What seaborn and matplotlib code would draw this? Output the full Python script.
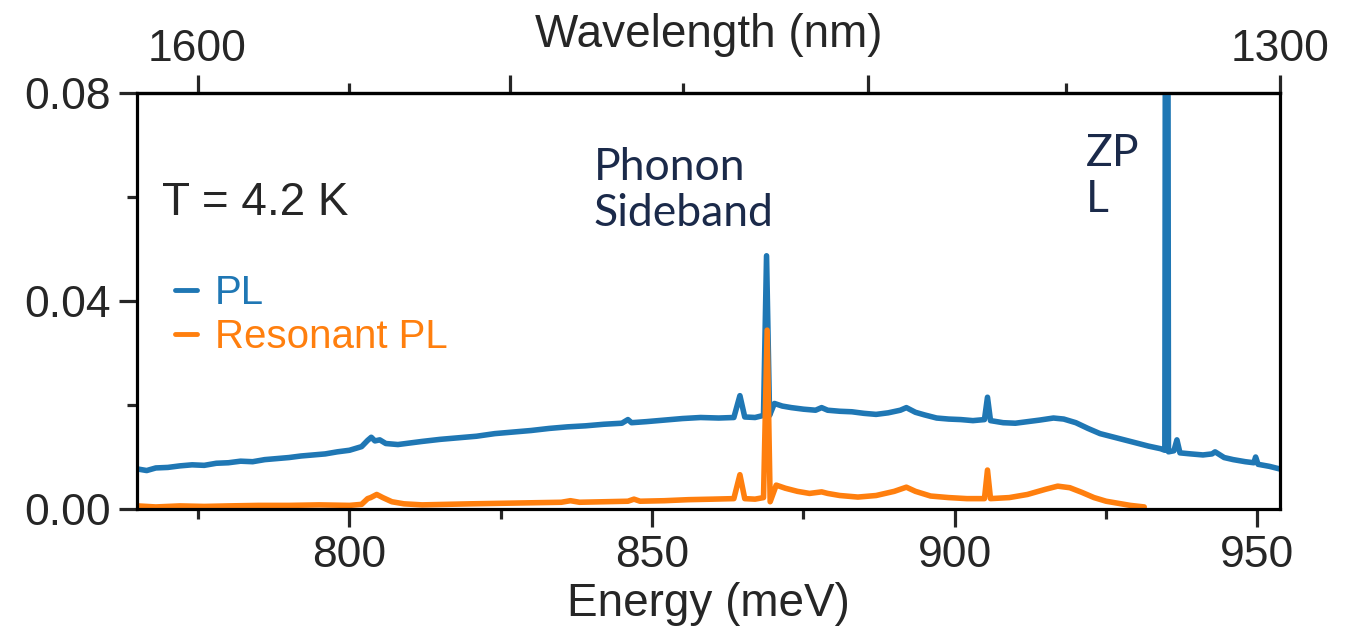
import numpy as np
import pandas as pd
import matplotlib
matplotlib.use("Agg")
import matplotlib.pyplot as plt
import seaborn as sns
from matplotlib.ticker import FixedLocator

energy_pl = [765.0, 766.5, 768.0, 770.0, 772.0, 774.0, 776.0, 778.0, 780.0, 782.0,
             784.0, 786.0, 788.0, 790.0, 792.0, 794.0, 796.0, 798.0, 800.0, 802.0,
             803.0, 803.6, 804.2, 805.0, 806.0, 808.0, 810.0, 812.0, 815.0, 818.0,
             821.0, 824.0, 827.0, 830.0, 833.0, 836.0, 839.0, 842.0, 845.0, 846.0,
             846.6, 849.0, 852.0, 855.0, 858.0, 861.0, 863.5, 864.5, 865.3, 867.0,
             868.4, 868.9, 869.4, 870.2, 871.5, 873.0, 875.0, 877.0, 878.0, 879.0,
             881.0, 883.0, 885.0, 887.0, 889.0, 891.0, 892.0, 893.5, 895.0, 897.0,
             899.0, 901.0, 903.0, 904.9, 905.4, 905.9, 908.0, 910.0, 912.0, 914.0,
             916.3, 918.0, 920.0, 922.0, 924.0, 926.0, 928.0, 930.0, 932.0, 934.0,
             934.7, 935.0, 935.3, 936.2, 936.7, 937.2, 939.0, 941.0, 942.5, 943.0,
             944.5, 946.0, 948.0, 949.4, 949.7, 950.1, 952.0, 953.7]
pl = [0.0077, 0.0074, 0.0079, 0.0080, 0.0083, 0.0085, 0.0084, 0.0088, 0.0089, 0.0092,
      0.0091, 0.0095, 0.0097, 0.0099, 0.0102, 0.0104, 0.0106, 0.0110, 0.0113, 0.0120,
      0.0132, 0.0138, 0.0131, 0.0133, 0.0126, 0.0124, 0.0127, 0.0130, 0.0134, 0.0137,
      0.0140, 0.0145, 0.0148, 0.0151, 0.0155, 0.0158, 0.0160, 0.0163, 0.0165, 0.0172,
      0.0166, 0.0168, 0.0171, 0.0174, 0.0176, 0.0175, 0.0176, 0.0218, 0.0177, 0.0176,
      0.0180, 0.0487, 0.0180, 0.0203, 0.0198, 0.0195, 0.0192, 0.0190, 0.0195, 0.0190,
      0.0188, 0.0187, 0.0184, 0.0182, 0.0185, 0.0190, 0.0195, 0.0186, 0.0181, 0.0175,
      0.0173, 0.0172, 0.0170, 0.0172, 0.0215, 0.0170, 0.0166, 0.0165, 0.0168, 0.0171,
      0.0175, 0.0173, 0.0166, 0.0155, 0.0145, 0.0139, 0.0133, 0.0127, 0.0121, 0.0116,
      0.0113, 0.3000, 0.0110, 0.0112, 0.0133, 0.0108, 0.0106, 0.0104, 0.0106, 0.0110,
      0.0099, 0.0095, 0.0091, 0.0089, 0.0100, 0.0086, 0.0082, 0.0077]

energy_res = [765.0, 768.0, 772.0, 776.0, 780.0, 785.0, 790.0, 795.0, 800.0, 802.0,
              803.0, 803.5, 804.5, 805.5, 807.0, 809.0, 812.0, 816.0, 820.0, 825.0,
              830.0, 835.0, 836.5, 838.0, 842.0, 846.0, 847.0, 848.0, 852.0, 856.0,
              860.0, 863.5, 864.5, 865.3, 867.0, 868.4, 869.0, 869.5, 870.5, 872.0,
              874.0, 876.0, 878.0, 879.0, 881.0, 884.0, 887.0, 890.0, 892.0, 893.5,
              896.0, 899.0, 902.0, 904.9, 905.4, 905.9, 909.0, 912.0, 915.0, 917.0,
              919.0, 921.0, 923.0, 925.0, 927.0, 929.0, 931.3]
res_pl = [0.0006, 0.0004, 0.0006, 0.0005, 0.0006, 0.0007, 0.0007, 0.0008, 0.0007, 0.0009,
          0.0020, 0.0022, 0.0028, 0.0022, 0.0014, 0.0010, 0.0008, 0.0009, 0.0010, 0.0011,
          0.0012, 0.0013, 0.0016, 0.0013, 0.0014, 0.0015, 0.0019, 0.0015, 0.0016, 0.0018,
          0.0019, 0.0020, 0.0066, 0.0020, 0.0019, 0.0022, 0.0344, 0.0014, 0.0046, 0.0040,
          0.0034, 0.0030, 0.0033, 0.0030, 0.0026, 0.0023, 0.0026, 0.0034, 0.0042, 0.0034,
          0.0025, 0.0022, 0.0020, 0.0020, 0.0075, 0.0020, 0.0022, 0.0028, 0.0038, 0.0044,
          0.0041, 0.0032, 0.0022, 0.0015, 0.0011, 0.0007, 0.0004]

series_names = ["PL", "Resonant PL"]
colors = ["#1f77b4", "#ff7f0e"]
text_col = "#1b2a4a"

# wavelength scale (nm) for the top axis
wl_major = [1600, 1500, 1400, 1300]
wl_labels = ["1600", "", "", "1300"]
wl_minor = [1550, 1450, 1350]
HC = 1239841.98  # meV * nm
e_lim = (764.9, HC / 1300 + 0.01)

df = pd.concat([
    pd.DataFrame({"energy": energy_pl, "intensity": pl, "series": series_names[0]}),
    pd.DataFrame({"energy": energy_res, "intensity": res_pl, "series": series_names[1]}),
])

sns.set_style("ticks")
plt.rcParams['font.family'] = ['Liberation Sans', 'DejaVu Sans']

fig = plt.figure(figsize=(13.58, 6.31), dpi=100)
ax = fig.add_axes([0.1009, 0.1933, 0.8417, 0.6593])

sns.lineplot(data=df, x="energy", y="intensity", hue="series", palette=colors,
             estimator=None, lw=4, ax=ax)

ax.set_xticks([800, 850, 900, 950])
ax.xaxis.set_minor_locator(FixedLocator([775, 825, 875, 925]))
ax.set_yticks([0, 0.04, 0.08])
ax.set_yticklabels(["0.00", "0.04", "0.08"])
ax.yaxis.set_minor_locator(FixedLocator([0.02, 0.06]))
ax.set_xlim(*e_lim)
ax.set_ylim(0, 0.08)
ax.tick_params(which="both", top=False, right=False)
ax.tick_params(which="major", direction="out", length=13, width=2.3, labelsize=32, pad=6)
ax.tick_params(which="minor", direction="out", length=7, width=2.3)
for s in ax.spines.values():
    s.set_linewidth(2.3)
    s.set_color("black")
ax.set_xlabel("Energy (meV)", fontsize=33, labelpad=4)
ax.set_ylabel("")


def e_to_nm(x):
    x = np.asarray(x, dtype=float)
    with np.errstate(divide="ignore"):
        return HC / x


ax2 = ax.secondary_xaxis("top", functions=(e_to_nm, e_to_nm))
ax2.set_xticks(wl_major, wl_labels)
ax2.xaxis.set_minor_locator(FixedLocator(wl_minor))
ax2.tick_params(which="major", direction="out", length=13, width=2.3, labelsize=32, pad=3.5)
ax2.tick_params(which="minor", direction="out", length=7, width=2.3)
ax2.spines["top"].set_linewidth(2.3)
ax.text(0.5, 1.1106, "Wavelength (nm)", transform=ax.transAxes, fontsize=33,
        ha="center", va="baseline")

leg = ax.legend(loc="center left", bbox_to_anchor=(0.033, 0.466), frameon=False,
                handlelength=0.55, handletextpad=0.45, labelspacing=0.15,
                borderpad=0, borderaxespad=0, fontsize=29, labelcolor="linecolor")
for h in leg.get_lines():
    h.set_linewidth(3.5)

ax.text(0.022, 0.736, "T = 4.2 K", transform=ax.transAxes, fontsize=33,
        va="center", ha="left")
ax.text(840.3, 0.0696, "Phonon\nSideband", fontsize=32, color=text_col,
        family=["Lato", "DejaVu Sans"], va="top", ha="left", linespacing=1.15)
ax.text(921.6, 0.0723, "ZP\nL", fontsize=32, color=text_col,
        family=["Lato", "DejaVu Sans"], va="top", ha="left", linespacing=1.15)

fig.savefig("out.png", dpi=100)
